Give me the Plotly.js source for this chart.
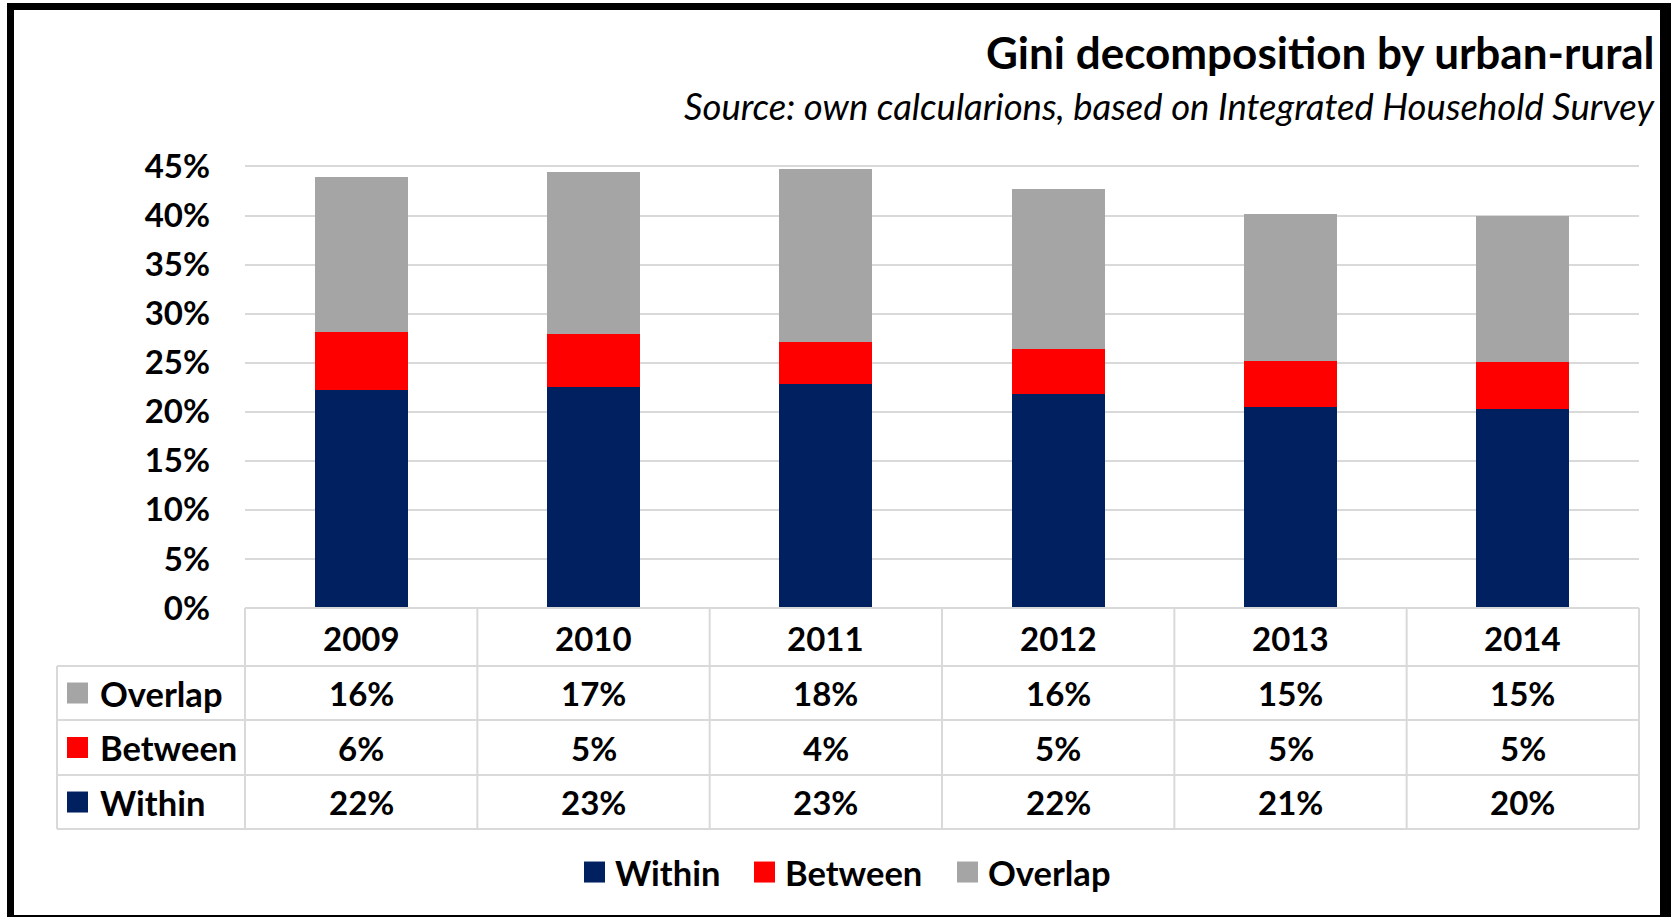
<!DOCTYPE html>
<html><head><meta charset="utf-8">
<script src="https://cdn.plot.ly/plotly-3.0.1.min.js"></script>
<style>html,body{margin:0;padding:0;background:#fff;overflow:hidden}#chart{width:1671px;height:917px}</style>
</head><body><div id="chart"></div><script>
// ---- data ----
const years = ['2009', '2010', '2011', '2012', '2013', '2014'];
const within = [0.222, 0.225, 0.228, 0.218, 0.205, 0.203];
const between = [0.059, 0.054, 0.043, 0.046, 0.047, 0.048];
const overlap = [0.158, 0.165, 0.176, 0.163, 0.150, 0.149];
const seriesNames = ['Within', 'Between', 'Overlap'];
const withinLabels = ['22%', '23%', '23%', '22%', '21%', '20%'];
const betweenLabels = ['6%', '5%', '4%', '5%', '5%', '5%'];
const overlapLabels = ['16%', '17%', '18%', '16%', '15%', '15%'];
const yTicks = [0, 0.05, 0.10, 0.15, 0.20, 0.25, 0.30, 0.35, 0.40, 0.45];
const titleText = 'Gini decomposition by urban-rural';
const subtitleText = 'Source: own calcularions, based on Integrated Household Survey';

// ---- styling ----
const W = 1671, H = 917;
const YMAX = 0.4525;
const L = 245, R = 1639, B = 608;
const T = B - 441.5 * YMAX / 0.45;
const colors = {Within: '#002060', Between: '#FF0000', Overlap: '#A5A5A5'};
const FONT = 'Lato, "Liberation Sans", sans-serif';
const GRID = '#D9D9D9';
const px = x => (x - L) / (R - L);
const py = y => (B - y) / (B - T);

const seriesData = {Within: within, Between: between, Overlap: overlap};
const traces = seriesNames.map(n => ({
  type: 'bar', name: n, x: years, y: seriesData[n],
  marker: {color: colors[n], line: {width: 0}},
  hoverinfo: 'skip', showlegend: false
}));

const shapes = [];
const annotations = [];
const numFont = {family: FONT, size: 33, color: '#000', weight: 'bold'};
const wordFont = {family: FONT, size: 34.5, color: '#000', weight: 'bold'};

// table grid
const rowLines = [666, 720, 775, 829];
const colW = (R - L) / years.length;
shapes.push({type: 'line', xref: 'paper', yref: 'paper', x0: px(L), x1: px(R), y0: py(B), y1: py(B), line: {color: GRID, width: 2}});
rowLines.forEach(y => shapes.push({type: 'line', xref: 'paper', yref: 'paper', x0: px(57), x1: px(R), y0: py(y), y1: py(y), line: {color: GRID, width: 2}}));
shapes.push({type: 'line', xref: 'paper', yref: 'paper', x0: px(57), x1: px(57), y0: py(666), y1: py(829), line: {color: GRID, width: 2}});
for (let k = 0; k <= years.length; k++) {
  const x = L + k * colW;
  shapes.push({type: 'line', xref: 'paper', yref: 'paper', x0: px(x), x1: px(x), y0: py(B), y1: py(829), line: {color: GRID, width: 2}});
}
// header years
years.forEach((yr, i) => annotations.push({xref: 'x', yref: 'paper', x: i, y: py(637.5), text: yr, showarrow: false, font: numFont, yanchor: 'middle'}));
// table rows
const rows = [
  {name: 'Overlap', labels: overlapLabels, yc: 693},
  {name: 'Between', labels: betweenLabels, yc: 747.5},
  {name: 'Within', labels: withinLabels, yc: 802}
];
rows.forEach(r => {
  r.labels.forEach((t, i) => annotations.push({xref: 'x', yref: 'paper', x: i, y: py(r.yc), text: t, showarrow: false, font: numFont, yanchor: 'middle'}));
  shapes.push({type: 'rect', xref: 'paper', yref: 'paper', x0: px(67), x1: px(88), y0: py(r.yc - 10.5), y1: py(r.yc + 10.5), fillcolor: colors[r.name], line: {width: 0}});
  annotations.push({xref: 'paper', yref: 'paper', x: px(98), y: py(r.yc), xanchor: 'left', yanchor: 'middle', text: r.name, showarrow: false, font: wordFont});
});
// bottom legend
const legendPos = [{sq: 584, tx: 613}, {sq: 754, tx: 783}, {sq: 957, tx: 986}];
seriesNames.forEach((n, i) => {
  const lp = legendPos[i];
  shapes.push({type: 'rect', xref: 'paper', yref: 'paper', x0: px(lp.sq), x1: px(lp.sq + 21), y0: py(872 - 10.5), y1: py(872 + 10.5), fillcolor: colors[n], line: {width: 0}});
  annotations.push({xref: 'paper', yref: 'paper', x: px(lp.tx), y: py(872), xanchor: 'left', yanchor: 'middle', text: n, showarrow: false, font: wordFont});
});
// titles
annotations.push({xref: 'paper', yref: 'paper', x: px(1657), y: py(52), xanchor: 'right', yanchor: 'middle', text: titleText, showarrow: false, font: {family: FONT, size: 44, color: '#000', weight: 'bold'}});
annotations.push({xref: 'paper', yref: 'paper', x: px(1657), y: py(106), xanchor: 'right', yanchor: 'middle', text: '<i>' + subtitleText + '</i>', showarrow: false, font: {family: FONT, size: 36.5, color: '#000'}});
// frame
const frame = [[7, 3, 14, 917], [7, 3, 1671, 10], [1660, 3, 1671, 917], [7, 915, 1671, 917]];
frame.forEach(f => shapes.push({type: 'rect', xref: 'paper', yref: 'paper', x0: px(f[0]), x1: px(f[2]), y0: py(f[1]), y1: py(f[3]), fillcolor: '#000', line: {width: 0}, layer: 'above'}));

const layout = {
  width: W, height: H,
  margin: {l: L, r: W - R, t: T, b: H - B, pad: 0},
  paper_bgcolor: '#fff', plot_bgcolor: '#fff',
  barmode: 'stack', bargap: 0.6,
  showlegend: false,
  xaxis: {type: 'category', range: [-0.5, years.length - 0.5], showticklabels: false, showgrid: false, zeroline: false, showline: false, ticks: ''},
  yaxis: {range: [0, YMAX], tickvals: yTicks, tickformat: '.0%', showgrid: true, gridcolor: GRID, gridwidth: 2,
          zeroline: false, showline: false, ticks: '', ticklabelstandoff: 34,
          tickfont: {family: FONT, size: 33, color: '#000', weight: 'bold'}},
  shapes: shapes, annotations: annotations,
  font: {family: FONT}
};
Plotly.newPlot('chart', traces, layout, {displayModeBar: false, staticPlot: true});
</script></body></html>
